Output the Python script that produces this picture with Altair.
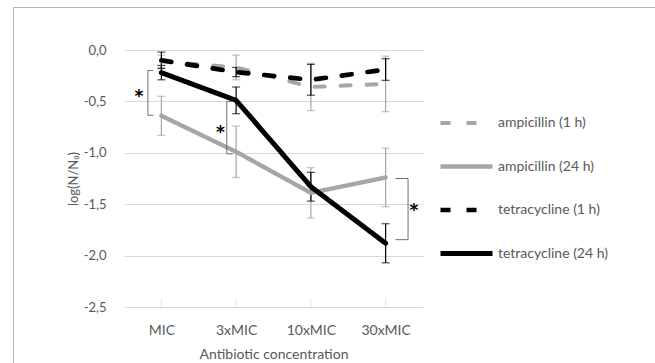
import json
import altair as alt
import pandas as pd

# ---------------- data ----------------
categories = ["MIC", "3xMIC", "10xMIC", "30xMIC"]
series = ["ampicillin (1 h)", "ampicillin (24 h)", "tetracycline (1 h)", "tetracycline (24 h)"]

amp_1h = [-0.11, -0.17, -0.36, -0.33]
amp_1h_err = [0.06, 0.12, 0.23, 0.27]
amp_24h = [-0.64, -0.99, -1.39, -1.24]
amp_24h_err = [0.19, 0.25, 0.245, 0.285]
tet_1h = [-0.10, -0.215, -0.29, -0.19]
tet_1h_err = [0.08, 0.045, 0.15, 0.105]
tet_24h = [-0.22, -0.49, -1.33, -1.88]
tet_24h_err = [0.07, 0.13, 0.14, 0.19]

# significance brackets (x in category-index units, y in log units)
bracket_bar_x = [-0.18, 0.875, 3.30]
bracket_cap_x = [-0.11, 0.955, 3.13]
bracket_top = [-0.20, -0.50, -1.25]
bracket_bottom = [-0.635, -1.01, -1.845]
star_x = [-0.30, 0.79, 3.38]
star_y = [-0.42, -0.77, -1.53]

y_ticks = [-2.5, -2.0, -1.5, -1.0, -0.5, 0.0]

# ---------------- tables ----------------
rows = []
for s, vals, errs in zip(series, [amp_1h, amp_24h, tet_1h, tet_24h],
                         [amp_1h_err, amp_24h_err, tet_1h_err, tet_24h_err]):
    for i, (v, e) in enumerate(zip(vals, errs)):
        rows.append({"series": s, "drug": s.split(" ")[0], "idx": i,
                     "value": v, "lo": v - e, "hi": v + e})
df = pd.DataFrame(rows)

cat_df = pd.DataFrame({"idx": list(range(len(categories))), "cat": categories})

br_rows = []
for b in range(len(bracket_bar_x)):
    pts = [(bracket_cap_x[b], bracket_top[b]), (bracket_bar_x[b], bracket_top[b]),
           (bracket_bar_x[b], bracket_bottom[b]), (bracket_cap_x[b], bracket_bottom[b])]
    for o, (xx, yy) in enumerate(pts):
        br_rows.append({"b": b, "o": o, "idx": xx, "value": yy})
br_df = pd.DataFrame(br_rows)
star_df = pd.DataFrame({"idx": star_x, "value": star_y})

# ---------------- style ----------------
FONT = "Lato"
TXT = "#595959"
GREY = "#a6a6a6"

label_expr = json.dumps(categories) + "[datum.value]"

x_scale = alt.Scale(domain=[-0.5, 3.5], nice=False, zero=False)
y_scale = alt.Scale(domain=[-2.5, 0.0], nice=False, zero=False)
x_axis = alt.Axis(values=list(range(len(categories))), labelExpr=label_expr,
                  title="Antibiotic concentration", grid=False, ticks=False, tickSize=0,
                  domain=False, labelPadding=16, titlePadding=10,
                  labelFontSize=14, titleFontSize=14)
y_axis = alt.Axis(values=y_ticks,
                  labelExpr="replace(replace(format(datum.value, '.1f'), '.', ','), '\u2212', '-')",
                  title="log(N/N\u2080)", grid=True, gridColor="#d9d9d9", gridWidth=1,
                  ticks=False, tickSize=0, domain=False, labelPadding=18,
                  titleX=-44, titleY=128.5, titleAngle=270, titleBaseline="bottom",
                  titleAlign="center",
                  labelFontSize=13, titleFontSize=13)


def X(field):
    return alt.X(field, type="quantitative", scale=x_scale, axis=x_axis)


def Y(field):
    return alt.Y(field, type="quantitative", scale=y_scale, axis=y_axis)


legend = alt.Legend(orient="none", legendX=314, legendY=66, symbolType="stroke",
                    symbolSize=2704, clipHeight=14, rowPadding=29.5, labelOffset=3,
                    labelFontSize=14, labelColor=TXT, labelFont=FONT, padding=0,
                    title=None)

color_enc = alt.Color("series:N", scale=alt.Scale(domain=series, range=[GREY, GREY, "#000000", "#000000"]),
                      legend=legend, title=None)
dash_enc = alt.StrokeDash("series:N", scale=alt.Scale(domain=series, range=[[10, 16], [1, 0], [10, 16], [1, 0]]),
                          legend=legend, title=None)
width_enc = alt.StrokeWidth("series:N", scale=alt.Scale(domain=series, range=[4, 5, 4, 5.5]),
                            legend=legend, title=None)

# outer chart frame
frame = alt.Chart(pd.DataFrame({"k": [0]})).mark_rect(
    fillOpacity=0, stroke="#b4b4b4", strokeWidth=1
).encode(x=alt.value(-110.5), x2=alt.value(560), y=alt.value(-42.5), y2=alt.value(340))

# upward axis ticks
xticks = alt.Chart(cat_df).transform_calculate(base="-2.5").mark_tick(
    orient="vertical", size=9, thickness=1, color="#d9d9d9", yOffset=-4.5
).encode(x=X("idx"), y=Y("base"))

base = alt.Chart(df)


def errbars(drug, color):
    sub = base.transform_filter(alt.datum.drug == drug)
    rule = sub.mark_rule(color=color, strokeWidth=1.2).encode(x=X("idx"), y=Y("lo"), y2="hi")
    lo = sub.mark_tick(orient="horizontal", size=8, thickness=1.2, color=color).encode(x=X("idx"), y=Y("lo"))
    hi = sub.mark_tick(orient="horizontal", size=8, thickness=1.2, color=color).encode(x=X("idx"), y=Y("hi"))
    return rule + lo + hi


lines = base.mark_line(strokeCap="round", strokeJoin="round").encode(
    x=X("idx"), y=Y("value"), color=color_enc, strokeDash=dash_enc, strokeWidth=width_enc,
    order="idx:Q"
)

brackets = alt.Chart(br_df).mark_line(color="#6e6e6e", strokeWidth=1, strokeJoin="round").encode(
    x=X("idx"), y=Y("value"), detail="b:N", order="o:Q"
)
stars = alt.Chart(star_df).mark_text(text="*", fontSize=17, font="DejaVu Sans", fontWeight="bold",
                                     color="#000000", baseline="middle", align="center", dy=4).encode(
    x=X("idx"), y=Y("value")
)

chart = alt.layer(
    frame, xticks, errbars("ampicillin", GREY), errbars("tetracycline", "#000000"),
    lines, brackets, stars
).properties(
    width=299, height=257,
    padding={"left": 124, "top": 50, "right": 232, "bottom": 56},
    autosize=alt.AutoSizeParams(type="none"),
    background="#ffffff",
).configure_view(strokeOpacity=0).configure_axis(
    labelFont=FONT, titleFont=FONT, labelColor=TXT, titleColor=TXT, titleFontWeight="normal"
)

chart.save("out.html", embed_options={"renderer": "svg", "actions": False})
